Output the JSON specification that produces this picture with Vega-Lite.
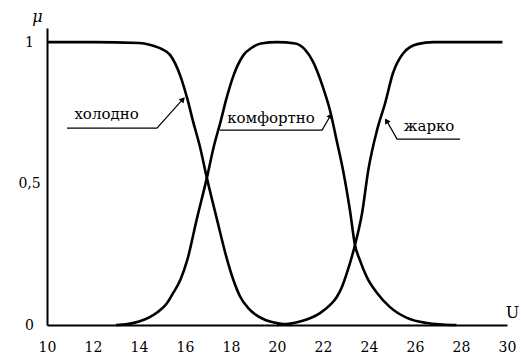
{
  "$schema": "https://vega.github.io/schema/vega-lite/v6.json",
  "width": 460,
  "height": 297,
  "autosize": {"type": "none"},
  "padding": {"left": 47, "top": 28, "right": 14, "bottom": 29},
  "background": "white",
  "config": {
    "view": {"stroke": null},
    "font": "DejaVu Serif"
  },
  "datasets": {
    "curves": [
      {"term": "холодно", "u": 10, "mu": 1},
      {"term": "холодно", "u": 12, "mu": 1},
      {"term": "холодно", "u": 14, "mu": 0.997},
      {"term": "холодно", "u": 14.5, "mu": 0.99},
      {"term": "холодно", "u": 15.0, "mu": 0.975},
      {"term": "холодно", "u": 15.35, "mu": 0.955},
      {"term": "холодно", "u": 15.8, "mu": 0.88},
      {"term": "холодно", "u": 16.1, "mu": 0.8},
      {"term": "холодно", "u": 16.35, "mu": 0.72},
      {"term": "холодно", "u": 16.65, "mu": 0.63},
      {"term": "холодно", "u": 16.95, "mu": 0.52},
      {"term": "холодно", "u": 17.4, "mu": 0.37},
      {"term": "холодно", "u": 17.8, "mu": 0.24},
      {"term": "холодно", "u": 18.1, "mu": 0.16},
      {"term": "холодно", "u": 18.4, "mu": 0.1},
      {"term": "холодно", "u": 18.75, "mu": 0.06},
      {"term": "холодно", "u": 19.1, "mu": 0.035},
      {"term": "холодно", "u": 19.7, "mu": 0.012},
      {"term": "холодно", "u": 20.2, "mu": 0.004},
      {"term": "холодно", "u": 20.6, "mu": 0},

      {"term": "комфортно", "u": 13.0, "mu": 0},
      {"term": "комфортно", "u": 13.5, "mu": 0.003},
      {"term": "комфортно", "u": 14.0, "mu": 0.012},
      {"term": "комфортно", "u": 14.8, "mu": 0.045},
      {"term": "комфортно", "u": 15.2, "mu": 0.075},
      {"term": "комфортно", "u": 15.5, "mu": 0.115},
      {"term": "комфортно", "u": 15.8, "mu": 0.16},
      {"term": "комфортно", "u": 16.1, "mu": 0.23},
      {"term": "комфортно", "u": 16.5, "mu": 0.37},
      {"term": "комфортно", "u": 16.95, "mu": 0.52},
      {"term": "комфортно", "u": 17.25, "mu": 0.63},
      {"term": "комфортно", "u": 17.55, "mu": 0.72},
      {"term": "комфортно", "u": 17.8, "mu": 0.8},
      {"term": "комфортно", "u": 18.1, "mu": 0.88},
      {"term": "комфортно", "u": 18.55, "mu": 0.955},
      {"term": "комфортно", "u": 18.9, "mu": 0.98},
      {"term": "комфортно", "u": 19.3, "mu": 0.995},
      {"term": "комфортно", "u": 20.0, "mu": 1},
      {"term": "комфортно", "u": 20.8, "mu": 0.995},
      {"term": "комфортно", "u": 21.2, "mu": 0.975},
      {"term": "комфортно", "u": 21.57, "mu": 0.93},
      {"term": "комфортно", "u": 22.0, "mu": 0.84},
      {"term": "комфортно", "u": 22.3, "mu": 0.76},
      {"term": "комфортно", "u": 22.6, "mu": 0.65},
      {"term": "комфортно", "u": 22.87, "mu": 0.548},
      {"term": "комфортно", "u": 23.17, "mu": 0.406},
      {"term": "комфортно", "u": 23.39, "mu": 0.283},
      {"term": "комфортно", "u": 23.6, "mu": 0.23},
      {"term": "комфортно", "u": 23.9, "mu": 0.17},
      {"term": "комфортно", "u": 24.35, "mu": 0.113},
      {"term": "комфортно", "u": 24.9, "mu": 0.064},
      {"term": "комфортно", "u": 25.65, "mu": 0.025},
      {"term": "комфортно", "u": 26.5, "mu": 0.007},
      {"term": "комфортно", "u": 27.2, "mu": 0.002},
      {"term": "комфортно", "u": 27.8, "mu": 0},

      {"term": "жарко", "u": 20.0, "mu": 0},
      {"term": "жарко", "u": 20.5, "mu": 0.004},
      {"term": "жарко", "u": 21.0, "mu": 0.012},
      {"term": "жарко", "u": 21.87, "mu": 0.042},
      {"term": "жарко", "u": 22.3, "mu": 0.07},
      {"term": "жарко", "u": 22.6, "mu": 0.099},
      {"term": "жарко", "u": 22.85, "mu": 0.14},
      {"term": "жарко", "u": 23.04, "mu": 0.184},
      {"term": "жарко", "u": 23.39, "mu": 0.283},
      {"term": "жарко", "u": 23.7, "mu": 0.396},
      {"term": "жарко", "u": 23.97, "mu": 0.548},
      {"term": "жарко", "u": 24.35, "mu": 0.689},
      {"term": "жарко", "u": 24.7, "mu": 0.784},
      {"term": "жарко", "u": 25.04, "mu": 0.89},
      {"term": "жарко", "u": 25.48, "mu": 0.96},
      {"term": "жарко", "u": 26.1, "mu": 0.993},
      {"term": "жарко", "u": 26.8, "mu": 1},
      {"term": "жарко", "u": 28, "mu": 1},
      {"term": "жарко", "u": 29.8, "mu": 1}
    ],
    "leaders": [
      {"term": "холодно", "k": 0, "u": 10.87, "mu": 0.696},
      {"term": "холодно", "k": 1, "u": 14.78, "mu": 0.696},
      {"term": "холодно", "k": 2, "u": 15.95, "mu": 0.802},
      {"term": "комфортно", "k": 0, "u": 17.52, "mu": 0.689},
      {"term": "комфортно", "k": 1, "u": 21.96, "mu": 0.689},
      {"term": "комфортно", "k": 2, "u": 22.36, "mu": 0.745},
      {"term": "жарко", "k": 0, "u": 27.96, "mu": 0.657},
      {"term": "жарко", "k": 1, "u": 25.22, "mu": 0.657},
      {"term": "жарко", "k": 2, "u": 24.74, "mu": 0.726}
    ],
    "tips": [
      {"term": "холодно", "u": 15.91, "mu": 0.798},
      {"term": "комфортно", "u": 22.33, "mu": 0.74},
      {"term": "жарко", "u": 24.76, "mu": 0.722}
    ],
    "labels": [
      {"term": "холодно", "u": 12.59, "mu": 0.73},
      {"term": "комфортно", "u": 19.74, "mu": 0.714},
      {"term": "жарко", "u": 26.61, "mu": 0.686}
    ]
  },
  "layer": [
    {
      "data": {"name": "curves"},
      "mark": {"type": "line", "color": "black", "strokeWidth": 2.6, "interpolate": "monotone"},
      "encoding": {
        "x": {
          "field": "u", "type": "quantitative",
          "scale": {"domain": [10, 30], "nice": false, "zero": false},
          "axis": {
            "values": [10, 12, 14, 16, 18, 20, 22, 24, 26, 28, 30],
            "grid": false, "ticks": false,
            "domainColor": "black", "domainWidth": 2,
            "labelFont": "DejaVu Serif", "labelFontSize": 14, "labelColor": "black",
            "labelPadding": 15, "labelOverlap": false, "labelFlush": false,
            "title": "U", "titleFont": "DejaVu Serif", "titleFontSize": 16,
            "titleFontWeight": "normal", "titleColor": "black",
            "titleAlign": "center", "titleBaseline": "middle",
            "titleX": 465, "titleY": -13
          }
        },
        "y": {
          "field": "mu", "type": "quantitative",
          "scale": {"domain": [0, 1.05], "nice": false},
          "axis": {
            "values": [0, 0.5, 1],
            "labelExpr": "replace(format(datum.value, '~g'), '.', ',')",
            "grid": false, "ticks": false,
            "domainColor": "black", "domainWidth": 2,
            "labelFont": "DejaVu Serif", "labelFontSize": 14, "labelColor": "black",
            "labelAlign": "center", "labelBaseline": "middle", "labelPadding": 18,
            "title": "μ", "titleFont": "DejaVu Serif", "titleFontSize": 16,
            "titleFontStyle": "italic", "titleFontWeight": "normal", "titleColor": "black",
            "titleAngle": 0, "titleAlign": "center", "titleBaseline": "middle",
            "titleX": -10, "titleY": -12
          }
        },
        "detail": {"field": "term", "type": "nominal"}
      }
    },
    {
      "data": {"name": "leaders"},
      "mark": {"type": "line", "color": "black", "strokeWidth": 1.2},
      "encoding": {
        "x": {"field": "u", "type": "quantitative"},
        "y": {"field": "mu", "type": "quantitative"},
        "detail": {"field": "term", "type": "nominal"},
        "order": {"field": "k", "type": "quantitative"}
      }
    },
    {
      "data": {"name": "tips"},
      "mark": {"type": "point", "shape": "triangle-up", "filled": true, "color": "black", "size": 40, "opacity": 1},
      "encoding": {
        "x": {"field": "u", "type": "quantitative"},
        "y": {"field": "mu", "type": "quantitative"},
        "angle": {
          "field": "term", "type": "nominal",
          "scale": {"type": "ordinal", "domain": ["холодно", "комфортно", "жарко"], "range": [42, 28, 330]},
          "legend": null
        }
      }
    },
    {
      "data": {"name": "labels"},
      "mark": {"type": "text", "font": "DejaVu Serif", "fontSize": 15, "color": "black", "align": "center", "baseline": "alphabetic"},
      "encoding": {
        "x": {"field": "u", "type": "quantitative"},
        "y": {"field": "mu", "type": "quantitative"},
        "text": {"field": "term", "type": "nominal"}
      }
    }
  ]
}
